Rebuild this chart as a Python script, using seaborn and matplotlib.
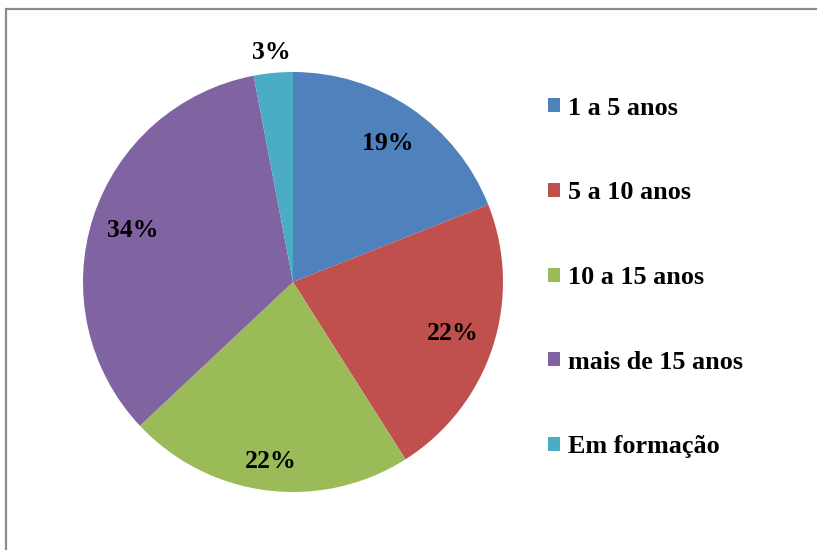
import numpy as np
import seaborn as sns
import matplotlib.pyplot as plt
from matplotlib.patches import Patch, Rectangle

sns.set_style("white")
plt.rcParams['font.family'] = ['Liberation Serif', 'DejaVu Serif']
plt.rcParams['text.color'] = 'black'

categories = ["1 a 5 anos", "5 a 10 anos", "10 a 15 anos", "mais de 15 anos", "Em formação"]
values = [19, 22, 22, 34, 3]
colors = ["#4F81BD", "#C0504D", "#9BBB59", "#8064A2", "#4BACC6"]
label_dist = [0.8, 0.8, 0.86, 0.8, 1.1]

W, H = 817, 550
fig = plt.figure(figsize=(W / 100, H / 100), dpi=100)

# chart border (only top and left visible in the crop)
fig.add_artist(Rectangle((6 / W, -0.1), 1.2, 1 - 9 / H + 0.1, transform=fig.transFigure,
                         fill=False, edgecolor="#8c8c8c", linewidth=1.6))

cx, cy, r = 293, 282, 210
ax = fig.add_axes([(cx - r) / W, (H - cy - r) / H, 2 * r / W, 2 * r / H])
wedges, _ = ax.pie(values, colors=colors, startangle=90, counterclock=False,
                   wedgeprops=dict(linewidth=0))
ax.set_xlim(-1, 1)
ax.set_ylim(-1, 1)
ax.set_aspect("equal")
ax.axis("off")

for w, v, d in zip(wedges, values, label_dist):
    ang = np.deg2rad((w.theta1 + w.theta2) / 2)
    ax.text(d * np.cos(ang), d * np.sin(ang), f"{v}%", ha="center", va="center",
            fontsize=18.5, fontweight="bold", color="black")

handles = [Patch(facecolor=c, edgecolor="none") for c in colors]
leg = fig.legend(handles, categories, loc="center left", bbox_to_anchor=(548 / W, 1 - 277.5 / H),
                 frameon=False, borderpad=0, borderaxespad=0,
                 prop={'weight': 'bold', 'size': 18.8},
                 handlelength=0.45, handleheight=0.45, handletextpad=0.3, labelspacing=2.36)
for t in leg.get_texts():
    t.set_color("black")

fig.savefig("out.png", dpi=100)
